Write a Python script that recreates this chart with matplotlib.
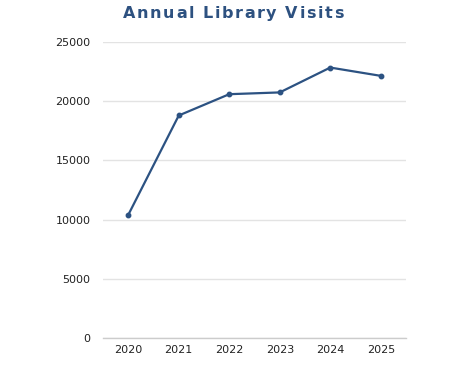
import matplotlib
matplotlib.use("Agg")
import matplotlib.pyplot as plt

years = ["2020", "2021", "2022", "2023", "2024", "2025"]
visits = [10400, 18800, 20600, 20750, 22850, 22150]
y_ticks = [0, 5000, 10000, 15000, 20000, 25000]

TITLE = "Annual Library Visits"
LINE_COLOR = "#2c5282"
TITLE_COLOR = "#2d5180"
GRID_COLOR = "#e3e3e3"
TEXT_COLOR = "#222222"


def spaced_title(fig, text, x_center, y, spacing, **kw):
    """Draw text centred at x_center with extra letter spacing (pixels)."""
    renderer = fig.canvas.get_renderer()
    widths = []
    for i in range(len(text) + 1):
        t = fig.text(0, 0, text[:i] + "|", **kw)
        bar = fig.text(0, 0, "|", **kw)
        w = t.get_window_extent(renderer).width - bar.get_window_extent(renderer).width
        t.remove()
        bar.remove()
        widths.append(w)
    total = widths[-1] + spacing * (len(text) - 1)
    fig_w = fig.get_figwidth() * fig.dpi
    x0 = x_center - total / 2
    for i, ch in enumerate(text):
        if ch == " ":
            continue
        fig.text((x0 + widths[i] + i * spacing) / fig_w, y, ch, ha="left", **kw)


fig = plt.figure(figsize=(4.69, 3.76), dpi=100)
ax = fig.add_axes([0.2196, 0.101, 0.6461, 0.787])

x = range(len(years))
ax.plot(x, visits, color=LINE_COLOR, linewidth=1.6, marker="o", markersize=3.2,
        zorder=3)

ax.set_xlim(-0.5, len(years) - 0.5)
ax.set_ylim(0, 25000)
ax.set_xticks(list(x))
ax.set_xticklabels(years)
ax.set_yticks(y_ticks)
ax.set_yticklabels([str(v) for v in y_ticks])

ax.grid(axis="y", color=GRID_COLOR, linewidth=1.0)
ax.set_axisbelow(True)
for side in ["top", "right", "left"]:
    ax.spines[side].set_visible(False)
ax.spines["bottom"].set_color("#cccccc")
ax.spines["bottom"].set_linewidth(1.0)
ax.tick_params(axis="both", length=0, labelsize=8, colors=TEXT_COLOR)
ax.tick_params(axis="y", pad=9)
ax.tick_params(axis="x", pad=5)

spaced_title(fig, TITLE, 233, 0.963, 1.6, fontsize=11.5, fontweight="bold",
             color=TITLE_COLOR, family="DejaVu Sans", va="center")

fig.savefig("out.png", dpi=100)
